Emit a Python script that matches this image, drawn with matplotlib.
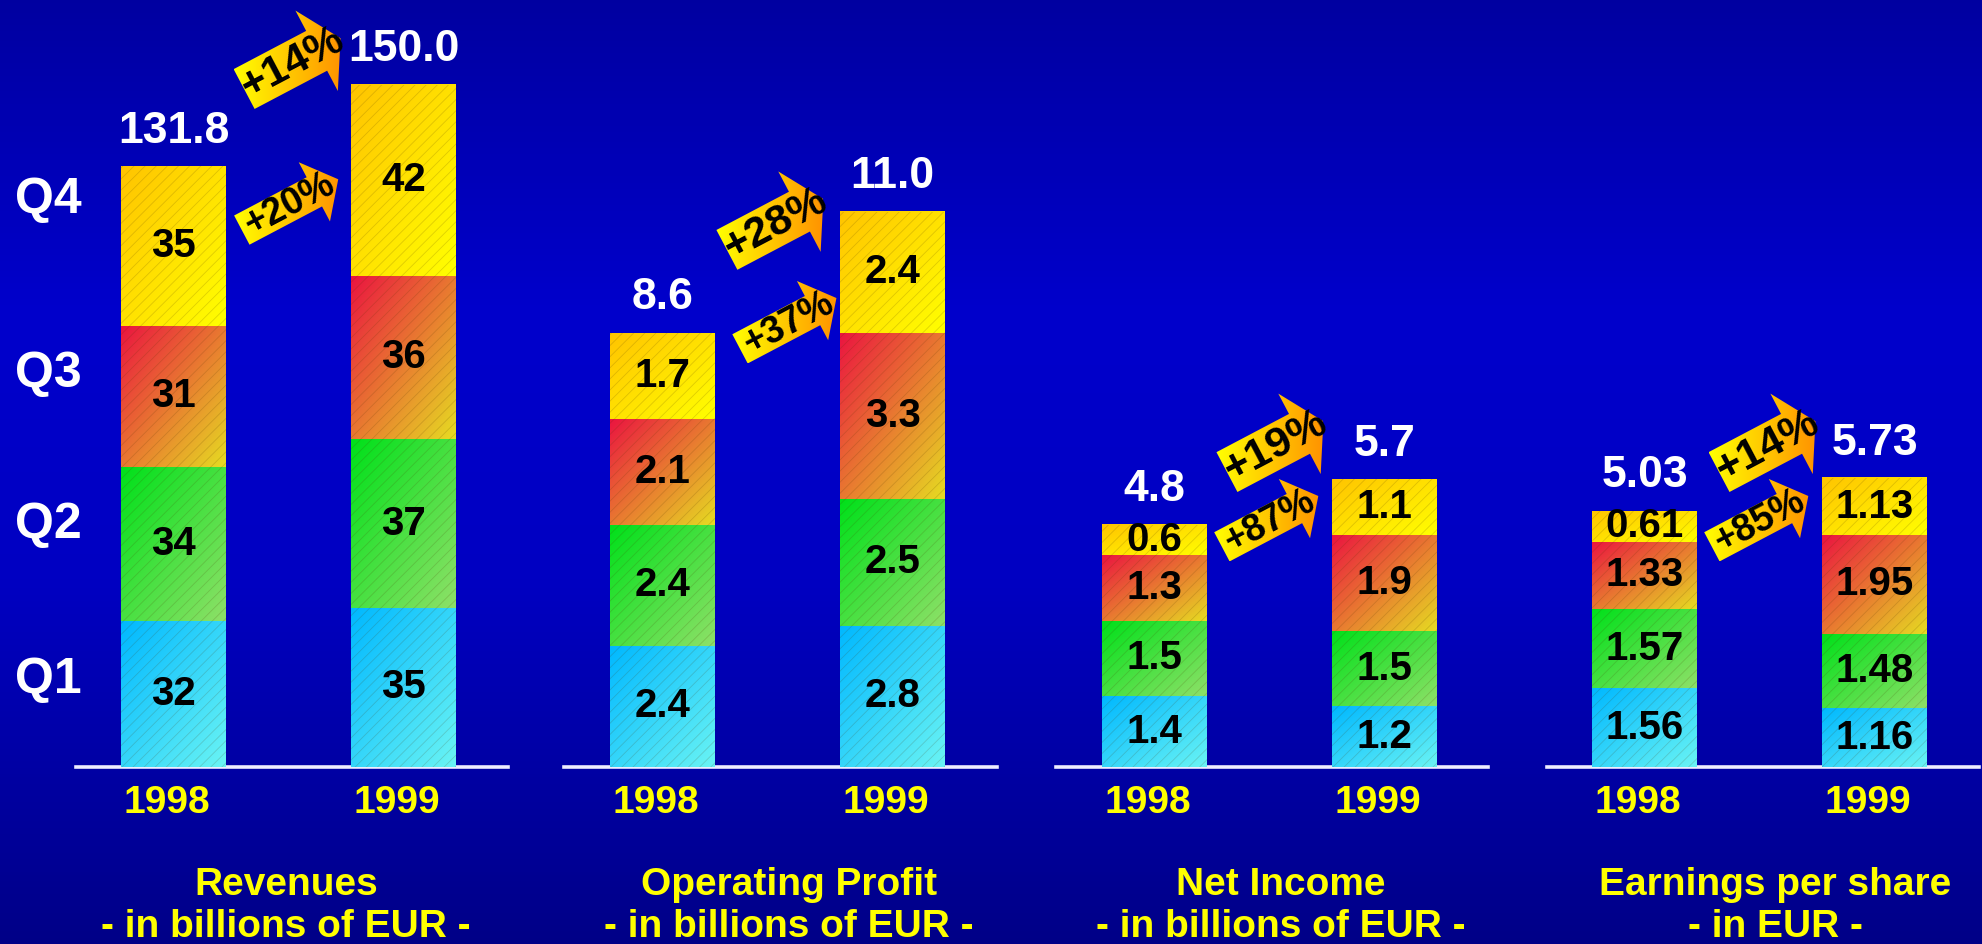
import numpy as np
import matplotlib
matplotlib.use("Agg")
import matplotlib.pyplot as plt
from matplotlib.patches import Polygon
from matplotlib.colors import to_rgb

W, H = 1982, 944
DPI = 100

plt.rcParams['font.family'] = ['Liberation Sans', 'DejaVu Sans']
plt.rcParams['font.weight'] = 'bold'
plt.rcParams['hatch.linewidth'] = 0.6

# ---- data ----
years = ["1998", "1999"]
quarters = ["Q1", "Q2", "Q3", "Q4"]

revenues = [[32, 34, 31, 35], [35, 37, 36, 42]]
revenues_total = [131.8, 150.0]
revenues_growth = ["+14%", "+20%"]

op_profit = [[2.4, 2.4, 2.1, 1.7], [2.8, 2.5, 3.3, 2.4]]
op_profit_total = [8.6, 11.0]
op_profit_growth = ["+28%", "+37%"]

net_income = [[1.4, 1.5, 1.3, 0.6], [1.2, 1.5, 1.9, 1.1]]
net_income_total = [4.8, 5.7]
net_income_growth = ["+19%", "+87%"]

eps = [[1.56, 1.57, 1.33, 0.61], [1.16, 1.48, 1.95, 1.13]]
eps_total = [5.03, 5.73]
eps_growth = ["+14%", "+85%"]

titles = [("Revenues", "- in billions of EUR -"),
          ("Operating Profit", "- in billions of EUR -"),
          ("Net Income", "- in billions of EUR -"),
          ("Earnings per share", "- in EUR -")]

# ---- layout (pixels) ----
BASE_Y = 177          # baseline height from the bottom
BAR_STEP = 230        # distance between the two bars
BAR_W = 105 / BAR_STEP

# left, right of baseline, first bar centre, px per unit, title offset, value format
panels = [
    dict(left=76, right=508, c0=173.5, ppu=4.55, tx=0.49, fmt="{:.0f}", tfmt="{:.1f}"),
    dict(left=564, right=997, c0=662.5, ppu=50.5, tx=0.55, fmt="{:.1f}", tfmt="{:.1f}"),
    dict(left=1056, right=1488, c0=1154.5, ppu=50.5, tx=0.55, fmt="{:.1f}", tfmt="{:.1f}"),
    dict(left=1547, right=1979, c0=1644.5, ppu=50.5, tx=0.57, fmt="{:.2f}", tfmt="{:.2f}"),
]
# arrow tail positions in panel data coords: (big arrow, small arrow)
arrow_tails = [
    [(0.307, 149.0), (0.297, 118.0)],
    [(0.280, 10.24), (0.337, 8.28)],
    [(0.315, 5.84), (0.293, 4.36)],
    [(0.324, 5.84), (0.293, 4.36)],
]

seg_colors = [("#00b8ff", "#6af4f4"),
              ("#00e01a", "#8ee068"),
              ("#eb1440", "#e6dc22"),
              ("#ffc400", "#ffff00")]

Q_LABEL_Y = [680, 525, 374, 200]


def diag_gradient(c1, c2, n=64):
    t = (np.linspace(0, 1, n)[:, None] + np.linspace(0, 1, n)[None, :]) / 2
    a, b = np.array(to_rgb(c1)), np.array(to_rgb(c2))
    return a + (b - a) * t[..., None]


def arrow_points(tail, angle, shaft_len, shaft_w, head_w, head_len):
    d = np.array([np.cos(angle), np.sin(angle)])
    n = np.array([-d[1], d[0]])
    t = np.array(tail)
    hb = t + d * shaft_len
    pts = [t - n * shaft_w / 2, hb - n * shaft_w / 2, hb - n * head_w / 2,
           hb + d * head_len, hb + n * head_w / 2, hb + n * shaft_w / 2,
           t + n * shaft_w / 2]
    return np.array(pts), t + d * (shaft_len + head_len) / 2


fig = plt.figure(figsize=(W / DPI, H / DPI), dpi=DPI)

# background
bg = fig.add_axes([0, 0, 1, 1])
ys = np.linspace(0, 1, 300)
blue = np.interp(ys, [0, 0.33, 0.62, 1.0], [0.63, 0.80, 0.76, 0.53])
grad = np.zeros((300, 1, 3))
grad[:, 0, 2] = blue
bg.imshow(grad, extent=(0, 1, 0, 1), aspect='auto', origin='upper')
bg.axis('off')

ov = fig.add_axes([0, 0, 1, 1], zorder=5)
ov.set_xlim(0, W)
ov.set_ylim(0, H)
ov.patch.set_alpha(0)
ov.axis('off')

datasets = [(revenues, revenues_total, revenues_growth),
            (op_profit, op_profit_total, op_profit_growth),
            (net_income, net_income_total, net_income_growth),
            (eps, eps_total, eps_growth)]

for k, (p, (vals, totals, growth)) in enumerate(zip(panels, datasets)):
    ax = fig.add_axes([p["left"] / W, BASE_Y / H, (p["right"] - p["left"]) / W, (H - BASE_Y) / H],
                      zorder=2)
    ax.patch.set_alpha(0)
    xlim = ((p["left"] - p["c0"]) / BAR_STEP, (p["right"] - p["c0"]) / BAR_STEP)
    ylim = (0, (H - BASE_Y) / p["ppu"])
    ax.axhline(0, color="#eeeeff", lw=2.6, zorder=1, clip_on=False)

    x = np.arange(len(years))
    bottoms = np.zeros(len(years))
    for q in range(len(quarters)):
        h = np.array([vals[i][q] for i in range(len(years))])
        bars = ax.bar(x, h, bottom=bottoms, width=BAR_W, color='none', edgecolor='none')
        for i, b in enumerate(bars):
            x0, y0 = b.get_x(), b.get_y()
            ax.imshow(diag_gradient(*seg_colors[q]), extent=(x0, x0 + b.get_width(), y0, y0 + b.get_height()),
                      aspect='auto', origin='upper', interpolation='bilinear', zorder=2)
            ax.text(b.get_x() + b.get_width() / 2, y0 + b.get_height() / 2, p["fmt"].format(h[i]),
                    ha='center', va='center', fontsize=29, color='black', zorder=4)
        ax.bar(x, h, bottom=bottoms, width=BAR_W, color='none', edgecolor=(0.3, 0.2, 0, 0.18),
               linewidth=0, hatch='///', zorder=3)
        bottoms = bottoms + h

    for i in range(len(years)):
        ax.annotate(p["tfmt"].format(totals[i]), (x[i], bottoms[i]), xytext=(0, 17), textcoords='offset points',
                    ha='center', va='baseline', color='white', fontsize=32, annotation_clip=False)
        ax.annotate(years[i], (x[i] - 0.03, 0), xytext=(0, -33), textcoords='offset points',
                    ha='center', va='baseline', color='#ffff00', fontsize=28, annotation_clip=False)

    ax.annotate(titles[k][0], (p["tx"], 0), xytext=(0, -92.5), textcoords='offset points',
                ha='center', va='baseline', color='#ffff00', fontsize=28, annotation_clip=False)
    ax.annotate(titles[k][1], (p["tx"], 0), xytext=(0, -122.5), textcoords='offset points',
                ha='center', va='baseline', color='#ffff00', fontsize=28, annotation_clip=False)

    ax.set_xlim(*xlim)
    ax.set_ylim(*ylim)
    ax.axis('off')

    # growth arrows
    angle = np.deg2rad(27.8)
    specs = [(45, 91, 31), (33, 67, 27)]
    for (tx, ty), label, (sw, hw, fs) in zip(arrow_tails[k], growth, specs):
        tail = ax.transData.transform((tx, ty))
        tail = (tail[0], tail[1])
        pts, mid = arrow_points(tail, angle, 82, sw, hw, 27)
        poly = Polygon(pts, closed=True, facecolor='none', edgecolor='none')
        ov.add_patch(poly)
        xmin, ymin = pts.min(axis=0)
        xmax, ymax = pts.max(axis=0)
        g = np.linspace(0, 1, 64)[None, :, None]
        img = np.array(to_rgb("#ffff00")) + (np.array(to_rgb("#ff9400")) - np.array(to_rgb("#ffff00"))) * g
        img = np.repeat(img, 4, axis=0)
        im = ov.imshow(img, extent=(xmin, xmax, ymin, ymax), aspect='auto', interpolation='bilinear', zorder=6)
        im.set_clip_path(poly)
        ov.text(mid[0], mid[1], label, rotation=27.8, rotation_mode='anchor', ha='center', va='center',
                fontsize=fs, color='black', zorder=7)

ov.set_xlim(0, W)
ov.set_ylim(0, H)

for q, yq in zip(quarters, Q_LABEL_Y):
    fig.text(15 / W, (H - yq) / H, q, ha='left', va='center', color='white', fontsize=36)

fig.savefig("out.png", dpi=DPI)
